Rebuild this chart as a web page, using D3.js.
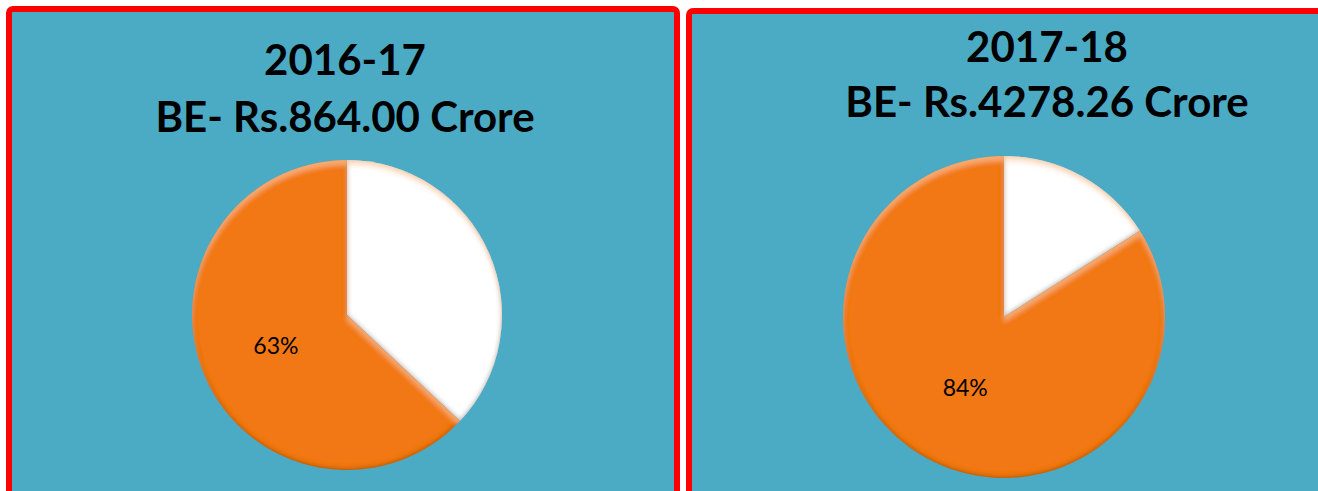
<!DOCTYPE html>
<html>
<head>
<meta charset="utf-8">
<script src="https://cdn.jsdelivr.net/npm/d3@7"></script>
<style>
  html, body { margin: 0; padding: 0; background: #ffffff; overflow: hidden; }
</style>
</head>
<body>
<div id="chart"></div>
<script>
////////////////////////////////////////////////////////////////////////
// Data

// one panel per budget year
let years = ["2016-17", "2017-18"];
let budgets = ["BE- Rs.864.00 Crore", "BE- Rs.4278.26 Crore"];

// share of the budget, in percent (first slice starts at 12 o'clock)
let sliceNames = ["Other", "Main"];
let otherShare = [37, 16];
let mainShare = [63, 84];

// colours
let sliceColors = ["#ffffff", "#f27814"];
let panelFill = "#4babc5";
let panelBorder = "#ff0000";

////////////////////////////////////////////////////////////////////////
// Layout

let width = 1318;
let height = 491;

// panel boxes and pie placement for each year
let panels = [
  { x: 9, y: 9, w: 668, h: 520, cx: 347, cy: 315, r: 155, tx: 345, t1: 75, t2: 132 },
  { x: 689, y: 11, w: 720, h: 520, cx: 1004, cy: 317, r: 161, tx: 1047, t1: 62, t2: 117 }
];

let svg = d3.select("#chart")
  .append("svg")
  .attr("width", width)
  .attr("height", height);

// bevel look of the office pie: dark rim inside each slice, light at top
let defs = svg.append("defs");
let bevel = defs.append("filter")
  .attr("id", "bevel")
  .attr("x", "-10%").attr("y", "-10%")
  .attr("width", "120%").attr("height", "120%");

bevel.append("feFlood").attr("flood-color", "#3a1a00").attr("flood-opacity", 0.6).attr("result", "dk");
bevel.append("feComposite").attr("in", "dk").attr("in2", "SourceAlpha").attr("operator", "out").attr("result", "outside");
bevel.append("feGaussianBlur").attr("in", "outside").attr("stdDeviation", 2.5).attr("result", "ob");
bevel.append("feOffset").attr("in", "ob").attr("dx", 0).attr("dy", -1.5).attr("result", "obo");
bevel.append("feComposite").attr("in", "obo").attr("in2", "SourceAlpha").attr("operator", "in").attr("result", "innerDark");

bevel.append("feFlood").attr("flood-color", "#ffc890").attr("flood-opacity", 0.6).attr("result", "lt");
bevel.append("feComposite").attr("in", "lt").attr("in2", "SourceAlpha").attr("operator", "out").attr("result", "outside2");
bevel.append("feGaussianBlur").attr("in", "outside2").attr("stdDeviation", 2.5).attr("result", "ob2");
bevel.append("feOffset").attr("in", "ob2").attr("dx", 0).attr("dy", 5).attr("result", "ob2o");
bevel.append("feComposite").attr("in", "ob2o").attr("in2", "SourceAlpha").attr("operator", "in").attr("result", "innerLight");

let merge = bevel.append("feMerge");
merge.append("feMergeNode").attr("in", "SourceGraphic");
merge.append("feMergeNode").attr("in", "innerDark");
merge.append("feMergeNode").attr("in", "innerLight");

let pie = d3.pie().sort(null).value(d => d.value);
let color = d3.scaleOrdinal().domain(sliceNames).range(sliceColors);

////////////////////////////////////////////////////////////////////////
// Draw each panel

years.forEach(function(year, i) {
  let p = panels[i];
  let g = svg.append("g").attr("class", "panel");

  // red framed teal box
  g.append("rect")
    .attr("x", p.x)
    .attr("y", p.y)
    .attr("width", p.w)
    .attr("height", p.h)
    .attr("rx", 4)
    .attr("fill", panelFill)
    .attr("stroke", panelBorder)
    .attr("stroke-width", 6);

  // two line title
  g.append("text")
    .attr("x", p.tx)
    .attr("y", p.t1)
    .attr("text-anchor", "middle")
    .style("font-family", "Lato, 'Open Sans', sans-serif")
    .style("font-weight", "bold")
    .style("font-size", "42px")
    .attr("fill", "#000")
    .text(year);

  g.append("text")
    .attr("x", p.tx)
    .attr("y", p.t2)
    .attr("text-anchor", "middle")
    .style("font-family", "Lato, 'Open Sans', sans-serif")
    .style("font-weight", "bold")
    .style("font-size", "42px")
    .attr("fill", "#000")
    .text(budgets[i]);

  let data = [
    { name: sliceNames[0], value: otherShare[i] },
    { name: sliceNames[1], value: mainShare[i] }
  ];
  let arcs = pie(data);
  let arc = d3.arc().innerRadius(0).outerRadius(p.r);

  let pg = g.append("g")
    .attr("transform", "translate(" + p.cx + "," + p.cy + ")");

  pg.selectAll("path")
    .data(arcs)
    .enter()
    .append("path")
    .attr("d", arc)
    .attr("fill", d => color(d.data.name))
    .attr("filter", "url(#bevel)");

  // only the orange slice carries a label
  pg.selectAll("text")
    .data(arcs.filter(d => d.data.name == "Main"))
    .enter()
    .append("text")
    .attr("transform", d => "translate(" + arc.centroid(d) + ")")
    .attr("text-anchor", "middle")
    .attr("dy", "0.35em")
    .style("font-family", "Lato, 'Open Sans', sans-serif")
    .style("font-size", "23px")
    .attr("fill", "#000")
    .text(d => d.data.value + "%");
});
</script>
</body>
</html>
